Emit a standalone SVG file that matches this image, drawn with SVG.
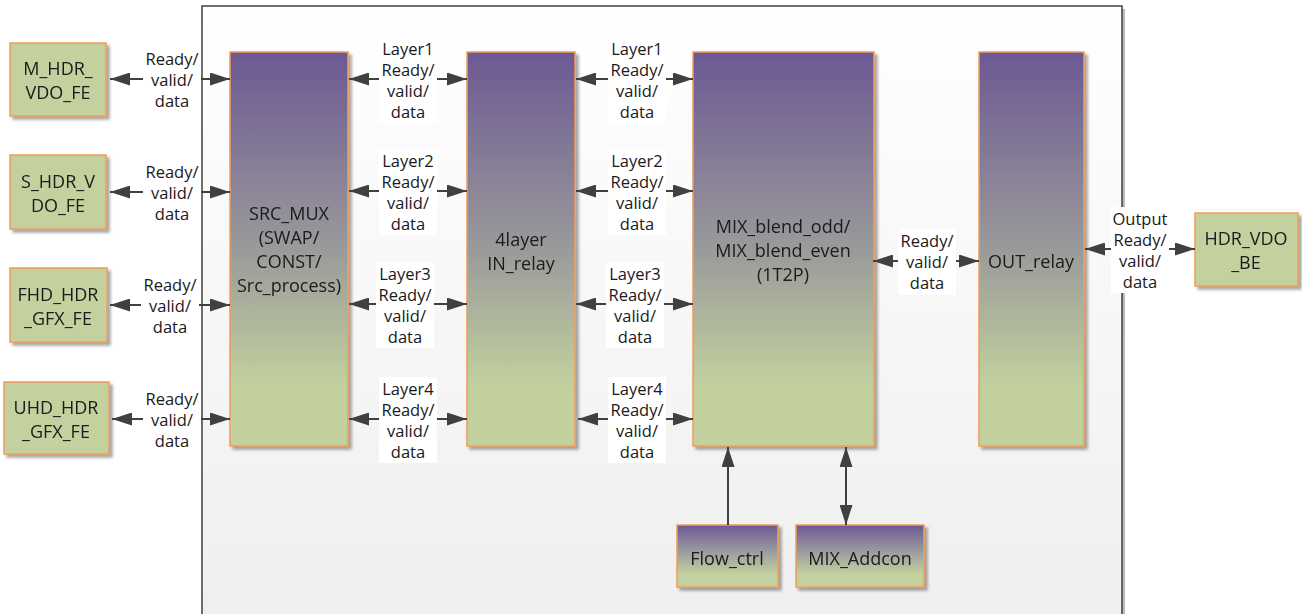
<svg xmlns="http://www.w3.org/2000/svg" width="1302" height="614" viewBox="0 0 1302 614">
<defs>
<linearGradient id="gBig" x1="0" y1="0" x2="0" y2="1">
<stop offset="0" stop-color="#6c5893"/>
<stop offset="0.5" stop-color="#9a9a9a"/>
<stop offset="0.85" stop-color="#c2d09e"/>
<stop offset="1" stop-color="#c3d19f"/>
</linearGradient>
<linearGradient id="gSmall" x1="0" y1="0" x2="0" y2="1">
<stop offset="0" stop-color="#6c5893"/>
<stop offset="0.5" stop-color="#a4a6a0"/>
<stop offset="0.8" stop-color="#c3d19f"/>
<stop offset="1" stop-color="#c3d19f"/>
</linearGradient>
<linearGradient id="gCont" x1="0" y1="0" x2="0" y2="1">
<stop offset="0" stop-color="#ffffff"/>
<stop offset="1" stop-color="#efefef"/>
</linearGradient>
<filter id="sh" x="-10%" y="-10%" width="130%" height="130%">
<feGaussianBlur in="SourceAlpha" stdDeviation="1.5"/>
<feOffset dx="3" dy="3" result="b"/>
<feComponentTransfer><feFuncA type="linear" slope="0.35"/></feComponentTransfer>
<feMerge><feMergeNode/><feMergeNode in="SourceGraphic"/></feMerge>
</filter>
<marker id="ah" viewBox="0 0 20 13" refX="20" refY="6.5" markerWidth="20" markerHeight="13" markerUnits="userSpaceOnUse" orient="auto-start-reverse">
<path d="M0,0 L20,6.5 L0,13 z" fill="#404040"/>
</marker>
</defs>
<style>
.box{stroke:#f19b57;stroke-width:1.5}
.grn{fill:#c3d19f}
.big{fill:url(#gBig)}
.sm{fill:url(#gSmall)}
text{font-family:"Open Sans","Liberation Sans",Arial,sans-serif;font-size:16.5px;fill:#1a1a1a;text-anchor:middle;dominant-baseline:central}
.bt{font-size:18px}
.lbl{fill:#ffffff}
.ln{stroke:#404040;stroke-width:2;fill:none;marker-start:url(#ah);marker-end:url(#ah)}
.ln1{stroke:#404040;stroke-width:2;fill:none;marker-end:url(#ah)}
</style>
<g id="container">
<rect x="205" y="9" width="920" height="610" fill="#bbbbbb"/>
<rect x="202" y="6" width="920" height="612" fill="url(#gCont)" stroke="#404040" stroke-width="1.5"/>
</g>
<g id="SRC_MUX" filter="url(#sh)">
<rect class="box big" x="230" y="52" width="118" height="394"/>
<text class="bt" x="289" y="213">SRC_MUX</text>
<text class="bt" x="289" y="237">(SWAP/</text>
<text class="bt" x="289" y="261">CONST/</text>
<text class="bt" x="289" y="285">Src_process)</text>
</g>
<g id="IN_relay" filter="url(#sh)">
<rect class="box big" x="467" y="52" width="108" height="394"/>
<text class="bt" x="521" y="239">4layer</text>
<text class="bt" x="521" y="263">IN_relay</text>
</g>
<g id="MIX_blend" filter="url(#sh)">
<rect class="box big" x="693" y="52" width="181" height="394"/>
<text class="bt" x="783" y="226">MIX_blend_odd/</text>
<text class="bt" x="783" y="250">MIX_blend_even</text>
<text class="bt" x="783" y="274">(1T2P)</text>
</g>
<g id="OUT_relay" filter="url(#sh)">
<rect class="box big" x="979" y="52" width="105" height="394"/>
<text class="bt" x="1031" y="261">OUT_relay</text>
</g>
<g id="Flow_ctrl" filter="url(#sh)">
<rect class="box sm" x="677" y="525" width="101" height="62"/>
<text class="bt" x="727" y="558">Flow_ctrl</text>
</g>
<g id="MIX_Addcon" filter="url(#sh)">
<rect class="box sm" x="796" y="525" width="128" height="62"/>
<text class="bt" x="860" y="558">MIX_Addcon</text>
</g>
<g id="M_HDR_VDO_FE" filter="url(#sh)">
<rect class="box grn" x="10" y="43" width="96" height="73"/>
<text class="bt" x="58" y="68">M_HDR_</text>
<text class="bt" x="58" y="92">VDO_FE</text>
</g>
<g id="S_HDR_VDO_FE" filter="url(#sh)">
<rect class="box grn" x="10" y="155" width="96" height="74"/>
<text class="bt" x="58" y="181">S_HDR_V</text>
<text class="bt" x="58" y="205">DO_FE</text>
</g>
<g id="FHD_HDR_GFX_FE" filter="url(#sh)">
<rect class="box grn" x="10" y="268" width="97" height="74"/>
<text class="bt" x="58" y="294">FHD_HDR</text>
<text class="bt" x="58" y="318">_GFX_FE</text>
</g>
<g id="UHD_HDR_GFX_FE" filter="url(#sh)">
<rect class="box grn" x="4" y="382" width="105" height="72"/>
<text class="bt" x="56" y="407">UHD_HDR</text>
<text class="bt" x="56" y="431">_GFX_FE</text>
</g>
<g id="HDR_VDO_BE" filter="url(#sh)">
<rect class="box grn" x="1195" y="213" width="103" height="73"/>
<text class="bt" x="1246" y="238">HDR_VDO</text>
<text class="bt" x="1246" y="262">_BE</text>
</g>
<g id="connectors">
<line class="ln" x1="110" y1="79" x2="230" y2="79"/>
<line class="ln" x1="110" y1="192" x2="230" y2="192"/>
<line class="ln" x1="110" y1="305" x2="230" y2="305"/>
<line class="ln" x1="112" y1="419" x2="230" y2="419"/>
<line class="ln" x1="349" y1="79" x2="467" y2="79"/>
<line class="ln" x1="349" y1="191" x2="467" y2="191"/>
<line class="ln" x1="349" y1="304" x2="467" y2="304"/>
<line class="ln" x1="349" y1="419" x2="467" y2="419"/>
<line class="ln" x1="576" y1="79" x2="693" y2="79"/>
<line class="ln" x1="576" y1="191" x2="693" y2="191"/>
<line class="ln" x1="576" y1="304" x2="693" y2="304"/>
<line class="ln" x1="578" y1="419" x2="693" y2="419"/>
<line class="ln" x1="873" y1="261" x2="979" y2="261"/>
<line class="ln" x1="1085" y1="249" x2="1195" y2="249"/>
<line class="ln1" x1="728" y1="525" x2="728" y2="447"/>
<line class="ln" x1="846" y1="447" x2="846" y2="525"/>
</g>
<g id="labels">
<rect class="lbl" x="143" y="47" width="58" height="66"/>
<text x="172" y="58">Ready/</text><text x="172" y="79">valid/</text><text x="172" y="100">data</text>
<rect class="lbl" x="143" y="160" width="58" height="66"/>
<text x="172" y="171">Ready/</text><text x="172" y="192">valid/</text><text x="172" y="213">data</text>
<rect class="lbl" x="141" y="273" width="58" height="66"/>
<text x="170" y="284">Ready/</text><text x="170" y="305">valid/</text><text x="170" y="326">data</text>
<rect class="lbl" x="143" y="387" width="58" height="66"/>
<text x="172" y="398">Ready/</text><text x="172" y="419">valid/</text><text x="172" y="440">data</text>

<rect class="lbl" x="379" y="37" width="58" height="86"/>
<text x="408" y="48">Layer1</text><text x="408" y="69">Ready/</text><text x="408" y="90">valid/</text><text x="408" y="111">data</text>
<rect class="lbl" x="379" y="149" width="58" height="86"/>
<text x="408" y="160">Layer2</text><text x="408" y="181">Ready/</text><text x="408" y="202">valid/</text><text x="408" y="223">data</text>
<rect class="lbl" x="376" y="262" width="58" height="86"/>
<text x="405" y="273">Layer3</text><text x="405" y="294">Ready/</text><text x="405" y="315">valid/</text><text x="405" y="336">data</text>
<rect class="lbl" x="379" y="377" width="58" height="86"/>
<text x="408" y="388">Layer4</text><text x="408" y="409">Ready/</text><text x="408" y="430">valid/</text><text x="408" y="451">data</text>

<rect class="lbl" x="608" y="37" width="58" height="86"/>
<text x="637" y="48">Layer1</text><text x="637" y="69">Ready/</text><text x="637" y="90">valid/</text><text x="637" y="111">data</text>
<rect class="lbl" x="608" y="149" width="58" height="86"/>
<text x="637" y="160">Layer2</text><text x="637" y="181">Ready/</text><text x="637" y="202">valid/</text><text x="637" y="223">data</text>
<rect class="lbl" x="606" y="262" width="58" height="86"/>
<text x="635" y="273">Layer3</text><text x="635" y="294">Ready/</text><text x="635" y="315">valid/</text><text x="635" y="336">data</text>
<rect class="lbl" x="608" y="377" width="58" height="86"/>
<text x="637" y="388">Layer4</text><text x="637" y="409">Ready/</text><text x="637" y="430">valid/</text><text x="637" y="451">data</text>

<rect class="lbl" x="898" y="229" width="58" height="66"/>
<text x="927" y="240">Ready/</text><text x="927" y="261">valid/</text><text x="927" y="282">data</text>
<rect class="lbl" x="1111" y="207" width="58" height="86"/>
<text x="1140" y="218">Output</text><text x="1140" y="239">Ready/</text><text x="1140" y="260">valid/</text><text x="1140" y="281">data</text>
</g>
</svg>
